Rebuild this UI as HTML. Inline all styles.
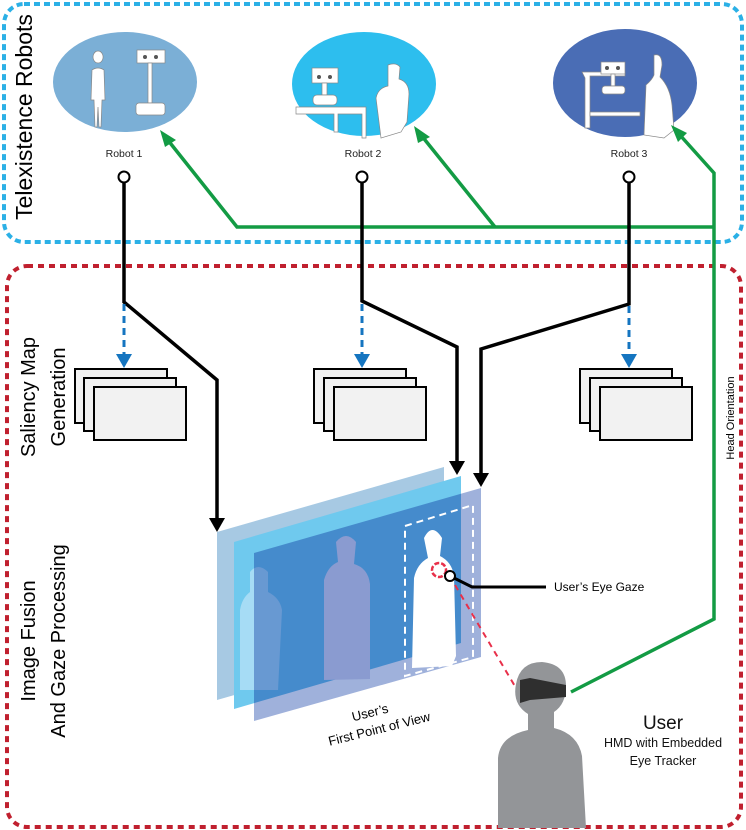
<!DOCTYPE html>
<html><head><meta charset="utf-8"><style>
html,body{margin:0;padding:0;background:#fff;}
svg{display:block;font-family:"Liberation Sans",sans-serif;}
</style></head><body>
<svg width="746" height="830" viewBox="0 0 746 830" xmlns="http://www.w3.org/2000/svg">
<!-- boxes -->
<rect x="4" y="4" width="738" height="238" rx="20" fill="none" stroke="#2bb0e6" stroke-width="4" stroke-dasharray="6 4"/>
<rect x="7" y="266" width="734" height="561" rx="20" fill="none" stroke="#c0202f" stroke-width="4" stroke-dasharray="6 5"/>

<!-- left labels -->
<text transform="translate(32,117) rotate(-90)" font-size="23" text-anchor="middle">Telexistence Robots</text>
<text transform="translate(35,397) rotate(-90)" font-size="20" text-anchor="middle">Saliency Map</text>
<text transform="translate(65,397) rotate(-90)" font-size="20" text-anchor="middle">Generation</text>
<text transform="translate(35,641) rotate(-90)" font-size="20" text-anchor="middle">Image Fusion</text>
<text transform="translate(65,641) rotate(-90)" font-size="20" text-anchor="middle">And Gaze Processing</text>
<text transform="translate(734,418) rotate(-90)" font-size="11" text-anchor="middle">Head Orientation</text>

<!-- robot ellipses -->
<ellipse cx="125" cy="82" rx="72" ry="50" fill="#7bafd6"/>
<ellipse cx="364" cy="84" rx="72" ry="52" fill="#2dbeee"/>
<ellipse cx="625" cy="83" rx="72" ry="54" fill="#4a6db5"/>
<!-- robot1 content -->
<g fill="#fff" stroke="#888" stroke-width="0.7">
<path d="M98,63 a5,6 0 1,1 0.1,0 M92,70 q6,-4 12,0 l1,30 l-3,0 l-1,27 h-2 l-1,-20 l-1,20 h-2 l-1,-27 l-3,0 z"/>
<rect x="137" y="50" width="28" height="13"/>
<rect x="148" y="63" width="4" height="40"/>
<rect x="136" y="103" width="29" height="12" rx="3"/>
</g>
<g fill="#555"><circle cx="145" cy="57" r="2"/><circle cx="156" cy="57" r="2"/></g>
<!-- robot2 -->
<g fill="#fff" stroke="#888" stroke-width="0.7">
<rect x="312" y="68" width="26" height="15"/>
<rect x="322" y="83" width="5" height="12"/>
<rect x="313" y="95" width="24" height="10" rx="4"/>
<path d="M296,107 L366,107 L366,138 L362,138 L362,114 L338,114 L338,132 L334,132 L334,114 L296,114 Z"/>
<path d="M388,65 q8,-3 12,2 l-1,12 q10,3 10,15 l-2,28 l-6,10 l-20,6 l-5,-40 q2,-10 12,-12 z"/>
</g>
<g fill="#555"><circle cx="319" cy="77" r="2"/><circle cx="330" cy="77" r="2"/></g>
<!-- robot3 -->
<g fill="#fff" stroke="#888" stroke-width="0.7">
<path d="M582,72 L625,72 L625,76 L590,76 L590,128 L585,128 L585,78 Z"/>
<path d="M590,112 L640,112 L640,116 L590,116 Z"/>
<rect x="601" y="62" width="24" height="12"/>
<rect x="611" y="74" width="4" height="12"/>
<rect x="602" y="86" width="23" height="8" rx="3"/>
<path d="M654,55 q8,-2 8,10 l-2,12 q10,10 12,28 l2,25 l-10,8 l-20,-3 l2,-50 q6,-5 8,-10 z"/>
</g>
<g fill="#555"><circle cx="607" cy="68" r="2"/><circle cx="618" cy="68" r="2"/></g>

<g font-size="10.5" text-anchor="middle" fill="#222">
<text x="124" y="157">Robot 1</text><text x="363" y="157">Robot 2</text><text x="629" y="157">Robot 3</text>
</g>

<!-- green lines -->
<g fill="none" stroke="#139b44" stroke-width="3.5">
<polyline points="571,692 714,619 714,173 679,134"/>
<polyline points="714,227 237,227 167,139"/>
<line x1="495" y1="227" x2="421" y2="135"/>
</g>
<g fill="#139b44">
<polygon points="160,130 176,140 165,147"/>
<polygon points="414,126 430,137 418,143"/>
<polygon points="671,125 687,133 678,142"/>
</g>

<!-- black connectors -->
<g fill="none" stroke="#000" stroke-width="3.5">
<polyline points="124,183 124,302 217,380 217,520"/>
<polyline points="362,183 362,301 457,347 457,463"/>
<polyline points="629,183 629,304 481,349 481,475"/>
</g>
<g fill="#000">
<polygon points="209,518 225,518 217,532"/>
<polygon points="449,461 465,461 457,475"/>
<polygon points="473,473 489,473 481,487"/>
</g>
<g fill="#fff" stroke="#000" stroke-width="2">
<circle cx="124" cy="177" r="5.5"/><circle cx="362" cy="177" r="5.5"/><circle cx="629" cy="177" r="5.5"/>
</g>
<!-- blue dashed arrows -->
<g stroke="#1575c0" stroke-width="3" stroke-dasharray="7 5">
<line x1="124" y1="304" x2="124" y2="355"/><line x1="362" y1="304" x2="362" y2="355"/><line x1="629" y1="306" x2="629" y2="355"/>
</g>
<g fill="#1575c0">
<polygon points="116,354 132,354 124,368"/><polygon points="354,354 370,354 362,368"/><polygon points="621,354 637,354 629,368"/>
</g>
<!-- stacks -->
<g fill="#f2f2f2" stroke="#000" stroke-width="2">
<rect x="75" y="369" width="92" height="54"/><rect x="84" y="378" width="92" height="53"/><rect x="94" y="387" width="92" height="53"/>
<rect x="314" y="369" width="92" height="54"/><rect x="324" y="378" width="92" height="53"/><rect x="334" y="387" width="92" height="53"/>
<rect x="580" y="369" width="92" height="54"/><rect x="590" y="378" width="92" height="53"/><rect x="600" y="387" width="92" height="53"/>
</g>

<!-- planes -->
<polygon points="217,532 444,467 444,635 217,700" fill="#a7c9e3"/>
<polygon points="234,542 461,476 461,643 234,709" fill="#6fc9ee"/>
<path d="M240,690 l0,-80 q2,-12 10,-18 l0,-20 q8,-10 18,0 l0,20 q12,6 14,18 l-4,80 z" fill="#a6dcf5"/>
<polygon points="254,553 481,488 481,657 254,721" fill="#8ea3d5" style="mix-blend-mode:multiply" opacity="0.85"/>
<path d="M324,680 l0,-100 q4,-14 14,-18 l-2,-20 q10,-12 20,0 l-2,22 q14,4 16,20 l0,95 z" fill="#8a9bd0"/>
<polygon points="405,526 473,505 473,657 405,676" fill="none" stroke="#fff" stroke-width="2" stroke-dasharray="7 5"/>
<path d="M412,668 l2,-90 q3,-14 14,-20 l-4,-20 q8,-16 18,0 l-2,18 q12,6 14,20 l2,80 l-4,10 z" fill="#fff"/>
<circle cx="439" cy="570" r="7" fill="none" stroke="#e8304a" stroke-width="2.5" stroke-dasharray="5 2"/>
<line x1="455" y1="585" x2="516" y2="688" stroke="#e8304a" stroke-width="2" stroke-dasharray="6 5"/>
<polyline points="450,576 472,587 546,587" fill="none" stroke="#000" stroke-width="3"/>
<circle cx="450" cy="576" r="5" fill="#fff" stroke="#000" stroke-width="2"/>
<text x="554" y="591" font-size="12">User’s Eye Gaze</text>

<g transform="rotate(-14 375 720)" font-size="13" text-anchor="middle">
<text x="372" y="716">User’s</text>
<text x="377" y="734">First Point of View</text>
</g>

<!-- user -->
<path d="M498,828 l0,-70 q2,-22 30,-28 l0,-16 q-16,-10 -12,-30 q4,-22 26,-22 q24,2 24,24 q0,18 -12,26 l0,16 q24,6 28,28 l4,72 z" fill="#939598"/>
<path d="M520,680 l10,-2 l36,7 l0,12 l-36,3 l-10,3 z" fill="#2f2f2f"/>
<g text-anchor="middle" fill="#111">
<text x="663" y="729" font-size="19">User</text>
<text x="663" y="747" font-size="12.5">HMD with Embedded</text>
<text x="663" y="765" font-size="12.5">Eye Tracker</text>
</g>
</svg>
</body></html>
